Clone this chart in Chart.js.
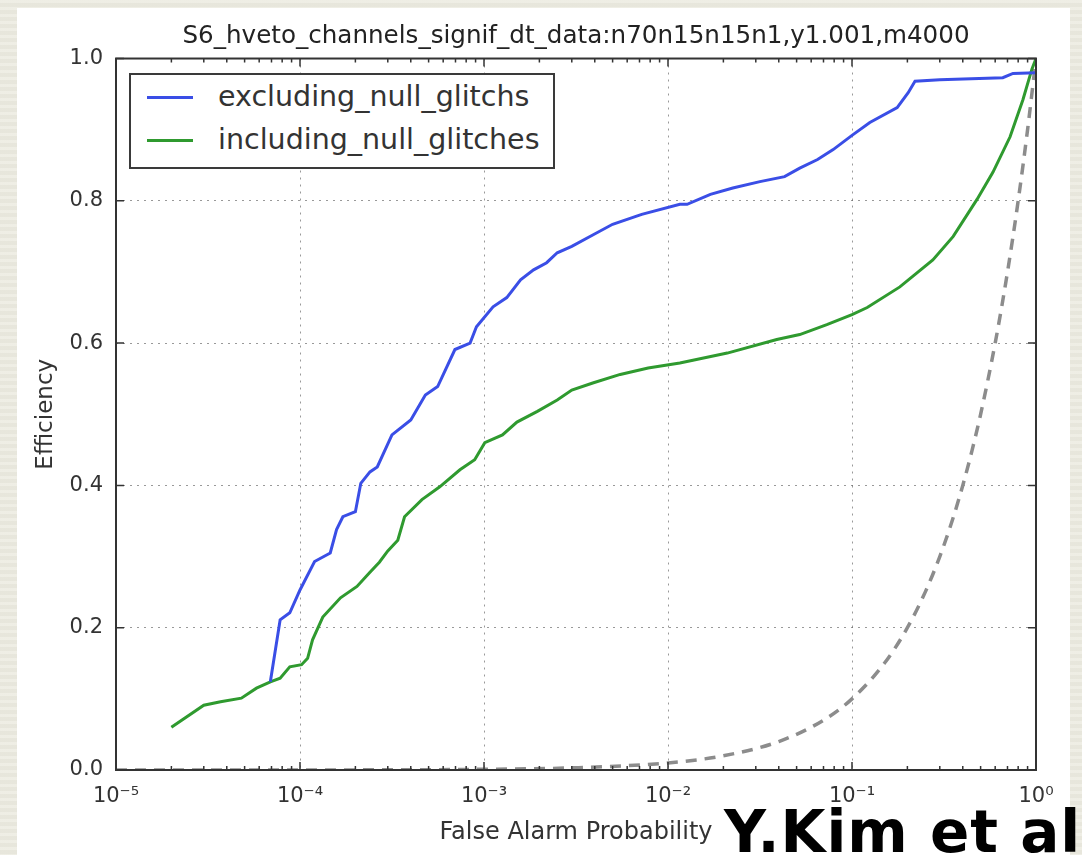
<!DOCTYPE html>
<html>
<head>
<meta charset="utf-8">
<script src="https://cdn.jsdelivr.net/npm/chart.js@4.4.1/dist/chart.umd.min.js"></script>
<style>
  html, body { margin: 0; padding: 0; }
  body {
    width: 1082px; height: 855px; overflow: hidden; position: relative;
    background: #ebeadf;
    background-image: repeating-linear-gradient(180deg, rgba(255,255,255,0.18) 0px, rgba(255,255,255,0.18) 3px, rgba(0,0,0,0.015) 3px, rgba(0,0,0,0.015) 7px);
  }
  #panel { position: absolute; left: 17px; top: 8px; width: 1053px; height: 847px; background: #fff; }
  #chart { position: absolute; left: 0; top: 0; }
  #legend {
    position: absolute; left: 129px; top: 73px; width: 422px; height: 92px;
    border: 2px solid #3a3a3a; background: #fff;
    font-family: 'DejaVu Sans', sans-serif; font-size: 28.5px; color: #333;
  }
  #legend .item { position: absolute; left: 0; height: 32px; line-height: 32px; }
  #legend .swatch { position: absolute; left: 16px; top: 15px; width: 46px; height: 3px; }
  #legend .label { position: absolute; left: 87px; white-space: nowrap; }
  #credit {
    position: absolute; left: 724px; top: 798px; line-height: normal;
    font-family: 'DejaVu Sans', sans-serif; font-weight: bold; font-size: 58px;
    color: #000; white-space: nowrap; letter-spacing: 1px;
  }
</style>
</head>
<body>
<div id="panel"></div>
<canvas id="chart" width="1082" height="855"></canvas>
<div id="legend"></div>
<div id="credit">Y.Kim et al</div>
<script>
// tick labels
const xTickValues = [1e-5, 1e-4, 1e-3, 1e-2, 1e-1, 1];
const xTickLabels = ['10⁻⁵', '10⁻⁴', '10⁻³', '10⁻²', '10⁻¹', '10⁰'];
const yTickLabels = ['0.0', '0.2', '0.4', '0.6', '0.8', '1.0'];

// excluding_null_glitchs (blue)
const excludingFap = [6.9e-5, 7.8e-5, 8.8e-5, 1.0e-4, 1.2e-4, 1.46e-4, 1.58e-4, 1.71e-4, 2.0e-4, 2.14e-4,
  2.4e-4, 2.63e-4, 3.16e-4, 4.0e-4, 4.8e-4, 5.6e-4, 6.95e-4, 8.4e-4, 9.1e-4, 1.12e-3,
  1.33e-3, 1.58e-3, 1.86e-3, 2.19e-3, 2.5e-3, 3.0e-3, 3.9e-3, 5.0e-3, 7.2e-3, 1.16e-2,
  1.27e-2, 1.7e-2, 2.25e-2, 3.16e-2, 4.3e-2, 5.2e-2, 6.5e-2, 7.9e-2, 0.1, 0.125,
  0.176, 0.202, 0.22, 0.30, 0.66, 0.75, 1.0];
const excludingEff = [0.124, 0.211, 0.221, 0.253, 0.293, 0.305, 0.338, 0.356, 0.363, 0.403,
  0.419, 0.426, 0.471, 0.492, 0.527, 0.539, 0.591, 0.600, 0.623, 0.651,
  0.664, 0.689, 0.703, 0.713, 0.727, 0.736, 0.752, 0.767, 0.781, 0.795,
  0.795, 0.809, 0.818, 0.827, 0.834, 0.846, 0.858, 0.872, 0.892, 0.910,
  0.931, 0.952, 0.968, 0.970, 0.973, 0.979, 0.980];

// including_null_glitches (green)
const includingFap = [2.0e-5, 3.0e-5, 3.7e-5, 4.8e-5, 5.8e-5, 6.9e-5, 7.8e-5, 8.8e-5, 1.02e-4, 1.1e-4,
  1.17e-4, 1.33e-4, 1.66e-4, 2.04e-4, 2.4e-4, 2.7e-4, 3.0e-4, 3.4e-4, 3.7e-4, 4.6e-4,
  5.75e-4, 7.4e-4, 8.9e-4, 1.01e-3, 1.26e-3, 1.51e-3, 1.95e-3, 2.5e-3, 3.0e-3, 3.9e-3,
  5.5e-3, 7.8e-3, 1.16e-2, 2.1e-2, 3.9e-2, 5.2e-2, 7.3e-2, 0.1, 0.121, 0.182,
  0.275, 0.355, 0.478, 0.583, 0.723, 0.849, 0.95, 1.0];
const includingEff = [0.060, 0.091, 0.096, 0.101, 0.115, 0.124, 0.129, 0.145, 0.148, 0.157,
  0.183, 0.215, 0.242, 0.258, 0.278, 0.292, 0.308, 0.323, 0.356, 0.380,
  0.398, 0.422, 0.436, 0.460, 0.471, 0.489, 0.504, 0.520, 0.534, 0.544,
  0.556, 0.565, 0.572, 0.586, 0.605, 0.612, 0.626, 0.640, 0.650, 0.679,
  0.717, 0.750, 0.802, 0.840, 0.890, 0.942, 0.985, 1.0];

// random veto reference (grey dashed)
const randomFap = [1e-5, 1e-4, 1e-3, 3e-3, 1e-2, 2e-2, 4e-2, 0.07, 0.1, 0.15, 0.2, 0.25, 0.3, 0.35, 0.4, 0.45, 0.5, 0.6, 0.7, 0.8, 0.9, 1.0];
const randomEff = [1e-5, 1e-4, 1e-3, 3e-3, 1e-2, 2e-2, 4e-2, 0.07, 0.1, 0.15, 0.2, 0.25, 0.3, 0.35, 0.4, 0.45, 0.5, 0.6, 0.7, 0.8, 0.9, 1.0];

const toPoints = (xs, ys) => xs.map((x, i) => ({x: x, y: ys[i]}));

Chart.defaults.font.family = "'DejaVu Sans', sans-serif";
Chart.defaults.color = '#333';

// frame + inward ticks like matplotlib
const framePlugin = {
    id: 'frame',
    afterDraw(chart) {
        const {ctx, chartArea: a, scales} = chart;
        ctx.save();
        ctx.strokeStyle = '#333';
        ctx.lineWidth = 1.5;
        ctx.beginPath();
        xTickValues.forEach((v, i) => {
            const px = scales.x.getPixelForValue(v);
            ctx.moveTo(px, a.bottom); ctx.lineTo(px, a.bottom - 8);
            ctx.moveTo(px, a.top); ctx.lineTo(px, a.top + 8);
            if (i < xTickValues.length - 1) {
                for (let k = 2; k < 10; k++) {
                    const mx = scales.x.getPixelForValue(v * k);
                    ctx.moveTo(mx, a.bottom); ctx.lineTo(mx, a.bottom - 4);
                    ctx.moveTo(mx, a.top); ctx.lineTo(mx, a.top + 4);
                }
            }
        });
        scales.y.ticks.forEach(t => {
            const py = scales.y.getPixelForValue(t.value);
            ctx.moveTo(a.left, py); ctx.lineTo(a.left + 8, py);
            ctx.moveTo(a.right, py); ctx.lineTo(a.right - 8, py);
        });
        ctx.stroke();
        ctx.lineWidth = 2;
        ctx.strokeRect(a.left, a.top, a.right - a.left, a.bottom - a.top);
        ctx.restore();
    }
};

const gridStyle = { color: 'rgba(0,0,0,0.4)', lineWidth: 1, drawTicks: false };
const borderStyle = { display: false, dash: [2, 5] };

const ctx = document.getElementById('chart').getContext('2d');
const chart = new Chart(ctx, {
    type: 'line',
    data: {
        datasets: [
            {
                label: 'excluding_null_glitchs',
                data: toPoints(excludingFap, excludingEff),
                borderColor: '#3a4ee6',
                borderWidth: 3,
                pointRadius: 0,
                tension: 0
            },
            {
                label: 'including_null_glitches',
                data: toPoints(includingFap, includingEff),
                borderColor: '#2f9a2f',
                borderWidth: 3,
                pointRadius: 0,
                tension: 0
            },
            {
                label: 'random',
                data: toPoints(randomFap, randomEff),
                borderColor: '#8c8c8c',
                borderWidth: 3.5,
                borderDash: [11, 8],
                pointRadius: 0,
                cubicInterpolationMode: 'monotone',
                tension: 0.4
            }
        ]
    },
    options: {
        responsive: false,
        animation: false,
        layout: { padding: { left: 0, top: 0, right: 46, bottom: 0 } },
        plugins: {
            legend: { display: false },
            tooltip: { enabled: false },
            title: {
                display: true,
                text: 'S6_hveto_channels_signif_dt_data:n70n15n15n1,y1.001,m4000',
                fullSize: false,
                font: { size: 24.6, weight: 'normal' },
                color: '#222',
                padding: { top: 22, bottom: 7 }
            }
        },
        scales: {
            x: {
                type: 'logarithmic',
                min: 1e-5,
                max: 1,
                afterBuildTicks: s => { s.ticks = xTickValues.map(v => ({value: v})); },
                afterFit: s => { s.height = 85; },
                ticks: {
                    autoSkip: false,
                    maxRotation: 0,
                    padding: 14,
                    font: { size: 21 },
                    color: '#333',
                    callback: (v, i) => xTickLabels[i]
                },
                grid: gridStyle,
                border: borderStyle,
                title: {
                    display: true,
                    text: 'False Alarm Probability',
                    font: { size: 24 },
                    color: '#333',
                    padding: { top: 0, bottom: 8 }
                }
            },
            y: {
                min: 0,
                max: 1,
                afterFit: s => { s.width = 116; },
                ticks: {
                    stepSize: 0.2,
                    padding: 13,
                    font: { size: 21 },
                    color: '#333',
                    callback: (v, i) => yTickLabels[i]
                },
                grid: gridStyle,
                border: borderStyle,
                title: {
                    display: true,
                    text: 'Efficiency',
                    font: { size: 23 },
                    color: '#333',
                    padding: { top: 32, bottom: 0 }
                }
            }
        }
    },
    plugins: [framePlugin]
});

// legend inside the axes, upper left
const legendBox = document.getElementById('legend');
chart.data.datasets.slice(0, 2).forEach((ds, i) => {
    const item = document.createElement('div');
    item.className = 'item';
    item.style.top = (6 + i * 43) + 'px';
    item.innerHTML = `<span class="swatch" style="background:${ds.borderColor}"></span><span class="label">${ds.label}</span>`;
    legendBox.appendChild(item);
});
</script>
</body>
</html>
